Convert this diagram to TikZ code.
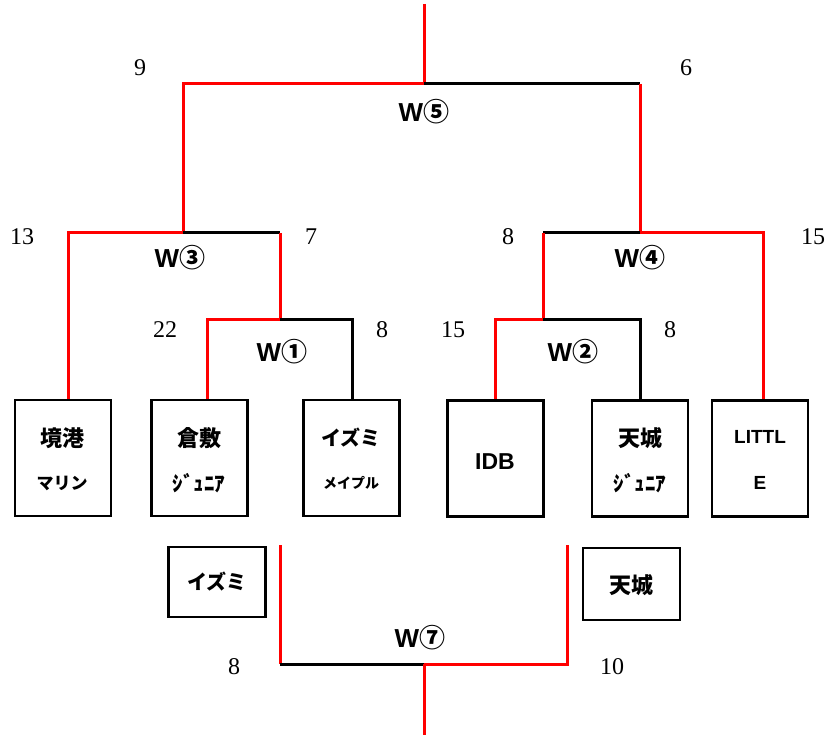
\documentclass[tikz,border=0pt]{standalone}
\usepackage{fontspec}
\newfontfamily\jp{Noto Sans CJK JP}
\newfontfamily\num{Liberation Serif}
\newfontfamily\lat{Liberation Sans}
\begin{document}
\begin{tikzpicture}[x=1pt,y=-1pt,
  team/.style={draw=black,line width=2.2pt,minimum width=96pt,minimum height=116pt,inner sep=0pt},
  team2/.style={draw=black,line width=2.2pt,minimum width=97pt,minimum height=70pt,inner sep=0pt},
  redl/.style={draw=red,line width=3pt},
  blkl/.style={draw=black,line width=3pt},
  score/.style={font=\num\fontsize{24}{26}\selectfont,inner sep=0pt},
  wlab/.style={font=\lat\bfseries\fontsize{26}{28}\selectfont,inner sep=0pt},
  big/.style={font=\jp\bfseries\fontsize{22}{24}\selectfont,inner sep=0pt},
  small/.style={font=\jp\bfseries\fontsize{17}{19}\selectfont,inner sep=0pt}]
\useasboundingbox[fill=white] (0,0) rectangle (828,738);
% team boxes
\node[team] (b1) at (63,458) {};
\node[team] (b2) at (199.5,458) {};
\node[team] (b3) at (351.5,458) {};
\node[team] (b4) at (495.5,458.5) {};
\node[team] (b5) at (640,458.5) {};
\node[team] (b6) at (760,458.5) {};
\node[big] (t1a) at (62,438) {境港};
\node[small] (t1b) at (62,483) {マリン};
\node[big] (t2a) at (199,438) {倉敷};
\node[font=\jp\bfseries\fontsize{21}{23}\selectfont,inner sep=0pt] (t2b) at (199,483) {ｼﾞｭﾆｱ};
\node[font=\jp\bfseries\fontsize{20}{22}\selectfont,inner sep=0pt] (t3a) at (351,438) {イズミ};
\node[font=\jp\bfseries\fontsize{14}{16}\selectfont,inner sep=0pt] (t3b) at (351,483) {メイプル};
\node[font=\lat\bfseries\fontsize{23}{25}\selectfont,inner sep=0pt] (t4) at (495,462) {IDB};
\node[big] (t5a) at (640,438) {天城};
\node[font=\jp\bfseries\fontsize{21}{23}\selectfont,inner sep=0pt] (t5b) at (640,483) {ｼﾞｭﾆｱ};
\node[font=\lat\bfseries\fontsize{19}{21}\selectfont,inner sep=0pt] (t6a) at (760,437) {LITTL};
\node[font=\lat\bfseries\fontsize{19}{21}\selectfont,inner sep=0pt] (t6b) at (760,483) {E};
% final boxes
\node[team2] (f1) at (217,582) {};
\node[team2,minimum height=72pt] (f2) at (631.5,584) {};
\node[font=\jp\bfseries\fontsize{20}{22}\selectfont,inner sep=0pt] (f1t) at (217,582) {イズミ};
\node[big] (f2t) at (631,585) {天城};
% junction coordinates
\coordinate (top) at (424,4);
\coordinate (j5) at (424,84);
\coordinate (j5l) at (183,84);
\coordinate (j5r) at (640,84);
\coordinate (j3) at (183,233);
\coordinate (j3l) at (68,233);
\coordinate (j3r) at (280,233);
\coordinate (j4) at (640,233);
\coordinate (j4l) at (543,233);
\coordinate (j4r) at (763,233);
\coordinate (j1) at (280,320);
\coordinate (j1l) at (207,320);
\coordinate (j1r) at (352,320);
\coordinate (j2) at (543,320);
\coordinate (j2l) at (495,320);
\coordinate (j2r) at (640,320);
% bracket
\draw[redl] (top) -- (j5);
\draw[redl] (j5) -- (j5l) -- (j3);
\draw[blkl] (j5) -- (j5r);
\draw[redl] (j5r) -- (j4);
\draw[redl] (j3) -- (j3l) -- (j3l |- b1.north);
\draw[blkl] (j3) -- (j3r);
\draw[redl] (j3r) -- (j1);
\draw[redl] (j1) -- (j1l) -- (j1l |- b2.north);
\draw[blkl] (j1) -- (j1r) -- (j1r |- b3.north);
\draw[blkl] (j4) -- (j4l);
\draw[redl] (j4l) -- (j2);
\draw[redl] (j4) -- (j4r) -- (j4r |- b6.north);
\draw[redl] (j2) -- (j2l) -- (j2l |- b4.north);
\draw[blkl] (j2) -- (j2r) -- (j2r |- b5.north);
% final
\coordinate (fl) at (280,545);
\coordinate (fr) at (567,545);
\coordinate (fj) at (424,664);
\coordinate (fb) at (424,735);
\draw[redl] (fl) -- (fl |- fj);
\draw[blkl] (fl |- fj) -- (fj);
\draw[redl] (fj) -- (fr |- fj) -- (fr);
\draw[redl] (fj) -- (fb);
% W labels
\node[wlab] (w5) at (424,112) {W\jp ⑤};
\node[wlab] (w3) at (180,258) {W\jp ③};
\node[wlab] (w4) at (640,258) {W\jp ④};
\node[wlab] (w1) at (282,352) {W\jp ①};
\node[wlab] (w2) at (573,352) {W\jp ②};
\node[wlab] (w7) at (420,638) {W\jp ⑦};
% scores
\node[score] (s1) at (140,68) {9};
\node[score] (s2) at (686,68) {6};
\node[score] (s3) at (22,237) {13};
\node[score] (s4) at (311,237) {7};
\node[score] (s5) at (508,237) {8};
\node[score] (s6) at (813,237) {15};
\node[score] (s7) at (165,330) {22};
\node[score] (s8) at (382,330) {8};
\node[score] (s9) at (453,330) {15};
\node[score] (s10) at (670,330) {8};
\node[score] (s11) at (234,667) {8};
\node[score] (s12) at (612,667) {10};
\end{tikzpicture}
\end{document}
